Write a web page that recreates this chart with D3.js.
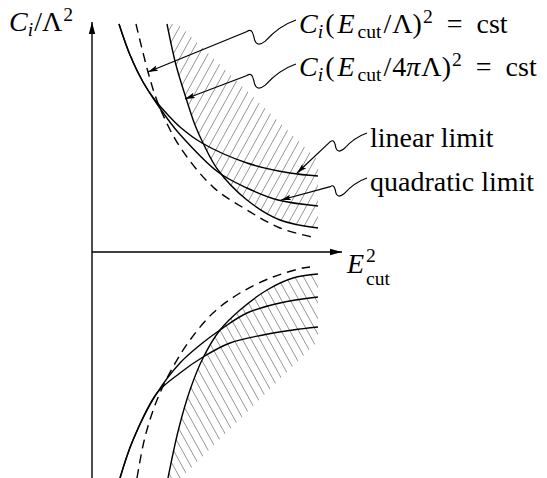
<!DOCTYPE html>
<html>
<head>
<meta charset="utf-8">
<title>C_i / Lambda^2 against E_cut^2</title>
<script src="https://d3js.org/d3.v7.min.js"></script>
<style>
  body { margin: 0; background: #fff; }
  text { font-family: "Liberation Serif", "Times New Roman", serif; fill: #000; }
</style>
</head>
<body>
<div id="sketch"></div>
<script>

var width = 547, height = 478;

// plot units: x = E_cut^2, y = C_i / Lambda^2 (arbitrary, origin at the axes crossing)
var xMax = 10, yTop = 9.2, yBottom = -9.04;

// curves above the axis
var upperLinear    = [[1.08,9.12],[1.52,7.88],[2.04,6.8],[2.52,6.08],[3.04,5.48],[3.52,5.0],[4.4,4.36],[6.2,3.56],[7.92,3.16],[9.04,3.04]];
var upperQuadratic = [[1.08,9.12],[1.52,7.88],[2.04,6.8],[2.52,6.04],[3.04,5.3],[3.52,4.7],[5.04,3.2],[6.2,2.56],[7.44,2.08],[9.04,1.84]];
var upperCst       = [[3.0,9.12],[3.36,7.48],[3.76,6.16],[4.12,5.08],[4.44,4.36],[5.04,3.28],[6.2,2.08],[7.52,1.28],[9.04,0.96]];
var upperCst4pi    = [[1.76,9.12],[2.24,7.2],[2.52,6.28],[2.84,5.48],[3.52,4.2],[4.84,2.6],[6.2,1.68],[7.52,0.96],[8.8,0.6]];

// curves below the axis
var lowerLinear    = [[1.12,-9.04],[1.64,-7.52],[2.6,-5.64],[3.52,-4.84],[4.44,-4.2],[5.52,-3.64],[6.84,-3.32],[8.04,-3.12],[9.04,-3.0]];
var lowerQuadratic = [[1.12,-9.04],[1.64,-7.52],[2.6,-5.64],[3.52,-4.44],[4.32,-3.72],[5.12,-3.12],[6.2,-2.44],[7.52,-2.04],[9.04,-1.8]];
var lowerCst       = [[3.04,-9.04],[3.46,-7.1],[3.92,-5.52],[4.44,-4.24],[5.12,-3.12],[5.92,-2.32],[7.0,-1.52],[8.04,-1.04],[9.04,-0.88]];
var lowerCst4pi    = [[1.8,-9.04],[2.12,-7.4],[2.6,-5.92],[3.24,-4.6],[3.92,-3.52],[4.84,-2.44],[5.92,-1.64],[7.24,-1.0],[8.44,-0.64],[8.72,-0.6]];

// far edges of the hatched (allowed) bands
var upperHatchEdge = [[9.04,3.68],[3.44,9.12]];
var lowerHatchEdge = [[9.04,-3.56],[3.56,-9.04]];

// annotations: where the wiggly pointer leaves the label, and where it lands
var labelNames = ["cst", "cst4pi", "linear", "quadratic"];
var pointerFrom = [[8.16,9.28],[8.16,7.52],[11.0,4.76],[11.0,2.96]];
var pointerTo   = [[2.24,7.2],[3.72,6.12],[8.2,3.16],[7.56,2.08]];
var pointerSize = [48, 48, 36, 36];

var svg = d3.select("#sketch").append("svg")
  .attr("width", width)
  .attr("height", height);

var x = d3.scaleLinear().domain([0, xMax]).range([92, 342]);
var y = d3.scaleLinear().domain([yBottom, yTop]).range([478, 22]);

var defs = svg.append("defs");
defs.append("marker")
  .attr("id", "axhead")
  .attr("viewBox", "0 0 12 8")
  .attr("refX", 12).attr("refY", 4)
  .attr("markerWidth", 12).attr("markerHeight", 8)
  .attr("markerUnits", "userSpaceOnUse")
  .attr("orient", "auto")
  .append("path").attr("d", "M0,0.8 L12,4 L0,7.2 Z").attr("fill", "#000");
defs.append("marker")
  .attr("id", "tip")
  .attr("viewBox", "0 0 10 8")
  .attr("refX", 10).attr("refY", 4)
  .attr("markerWidth", 10).attr("markerHeight", 8)
  .attr("markerUnits", "userSpaceOnUse")
  .attr("orient", "auto")
  .append("path").attr("d", "M0,1.2 L10,4 L0,6.8 L2,4 Z").attr("fill", "#000");

var line = d3.line()
  .x(function(d) { return x(d[0]); })
  .y(function(d) { return y(d[1]); })
  .curve(d3.curveCatmullRom.alpha(0.5));

// hatched bands, clipped between the solid boundary and the straight edge
function hatchBand(id, boundary, edge, up) {
  var d = line(boundary) + edge.map(function(p) { return "L" + x(p[0]) + "," + y(p[1]); }).join("") + "Z";
  defs.append("clipPath").attr("id", id).append("path").attr("d", d);
  var g = svg.append("g").attr("clip-path", "url(#" + id + ")");
  var y0 = y(0), y1 = up ? 0 : height;
  var run = Math.abs(y1 - y0) / Math.tan(61 * Math.PI / 180);
  for (var xb = 20; xb < 360; xb += 8.7) {
    g.append("line")
      .attr("x1", xb).attr("y1", y0)
      .attr("x2", xb + run).attr("y2", y1)
      .attr("stroke", "#8a8a8a")
      .attr("stroke-width", 0.9);
  }
}
hatchBand("hatch-up", upperCst, upperHatchEdge, true);
hatchBand("hatch-down", lowerCst, lowerHatchEdge, false);

// axes
svg.append("line")
  .attr("x1", x(0)).attr("y1", y(yBottom))
  .attr("x2", x(0)).attr("y2", y(yTop))
  .attr("stroke", "#000").attr("stroke-width", 1.4)
  .attr("marker-end", "url(#axhead)");
svg.append("line")
  .attr("x1", x(0)).attr("y1", y(0))
  .attr("x2", x(xMax)).attr("y2", y(0))
  .attr("stroke", "#000").attr("stroke-width", 1.4)
  .attr("marker-end", "url(#axhead)");

// curves
var solid = [upperLinear, upperQuadratic, upperCst, lowerLinear, lowerQuadratic, lowerCst];
svg.selectAll("path.solid")
  .data(solid)
  .enter().append("path")
  .attr("class", "solid")
  .attr("d", line)
  .attr("fill", "none")
  .attr("stroke", "#000")
  .attr("stroke-width", 1.4);

svg.selectAll("path.dashed")
  .data([upperCst4pi, lowerCst4pi])
  .enter().append("path")
  .attr("class", "dashed")
  .attr("d", line)
  .attr("fill", "none")
  .attr("stroke", "#000")
  .attr("stroke-width", 1.4)
  .attr("stroke-dasharray", "9,6");

// wiggly pointers from the labels to the curves
pointerFrom.forEach(function(f, i) {
  var sx = x(f[0]), sy = y(f[1]);
  var w = pointerSize[i];
  var p = d3.path();
  p.moveTo(sx, sy);
  p.quadraticCurveTo(sx - 0.35 * w, sy + 0.12 * w, sx - 0.64 * w, sy + 0.44 * w);
  p.quadraticCurveTo(sx - 0.84 * w, sy + 0.6 * w, sx - 0.88 * w, sy + 0.34 * w);
  p.quadraticCurveTo(sx - 0.92 * w, sy + 0.16 * w, sx - 1.02 * w, sy + 0.24 * w);
  p.lineTo(x(pointerTo[i][0]), y(pointerTo[i][1]));
  svg.append("path")
    .attr("class", "pointer " + labelNames[i])
    .attr("d", p.toString())
    .attr("fill", "none")
    .attr("stroke", "#000")
    .attr("stroke-width", 1.2)
    .attr("marker-end", "url(#tip)");
});

// text with TeX-like sub/superscripts
var fs = 28;
function mathText(px, py, parts) {
  var t = svg.append("text").attr("x", px).attr("y", py).attr("font-size", fs);
  var shift = 0;
  parts.forEach(function(p) {
    var target = p.sub ? 5 : p.sup ? -10 : 0;
    var ts = t.append("tspan").text(p.t).attr("dy", target - shift);
    shift = target;
    if (p.sub || p.sup) ts.attr("font-size", fs * 0.7);
    if (p.it) ts.attr("font-style", "italic");
    if (p.dx) ts.attr("dx", p.dx);
  });
  return t;
}

mathText(299, 33, [
  {t: "C", it: true}, {t: "i", it: true, sub: true}, {t: "(", dx: 2}, {t: "E", it: true, dx: 3},
  {t: "cut", sub: true, dx: 3}, {t: "/", dx: 2}, {t: "Λ", dx: 1}, {t: ")"}, {t: "2", sup: true, dx: 1},
  {t: "=", dx: 14}, {t: "cst", dx: 14}
]);
mathText(299, 76, [
  {t: "C", it: true}, {t: "i", it: true, sub: true}, {t: "(", dx: 2}, {t: "E", it: true, dx: 3},
  {t: "cut", sub: true, dx: 3}, {t: "/", dx: 2}, {t: "4", dx: 1}, {t: "π", it: true}, {t: "Λ", dx: 1},
  {t: ")"}, {t: "2", sup: true, dx: 1}, {t: "=", dx: 14}, {t: "cst", dx: 14}
]);
mathText(370, 147, [{t: "linear limit"}]);
mathText(370, 191, [{t: "quadratic limit"}]);

// axis titles
mathText(9, 31, [{t: "C", it: true}, {t: "i", it: true, sub: true}, {t: "/", dx: 1}, {t: "Λ"}, {t: "2", sup: true, dx: 1}]);
var eLabel = mathText(347, 273, [{t: "E", it: true}]);
var eW = eLabel.node().getComputedTextLength();
svg.append("text").attr("x", 347 + eW + 2).attr("y", 262).attr("font-size", fs * 0.7).text("2");
svg.append("text").attr("x", 347 + eW + 2).attr("y", 285).attr("font-size", fs * 0.7).text("cut");

</script>
</body>
</html>
